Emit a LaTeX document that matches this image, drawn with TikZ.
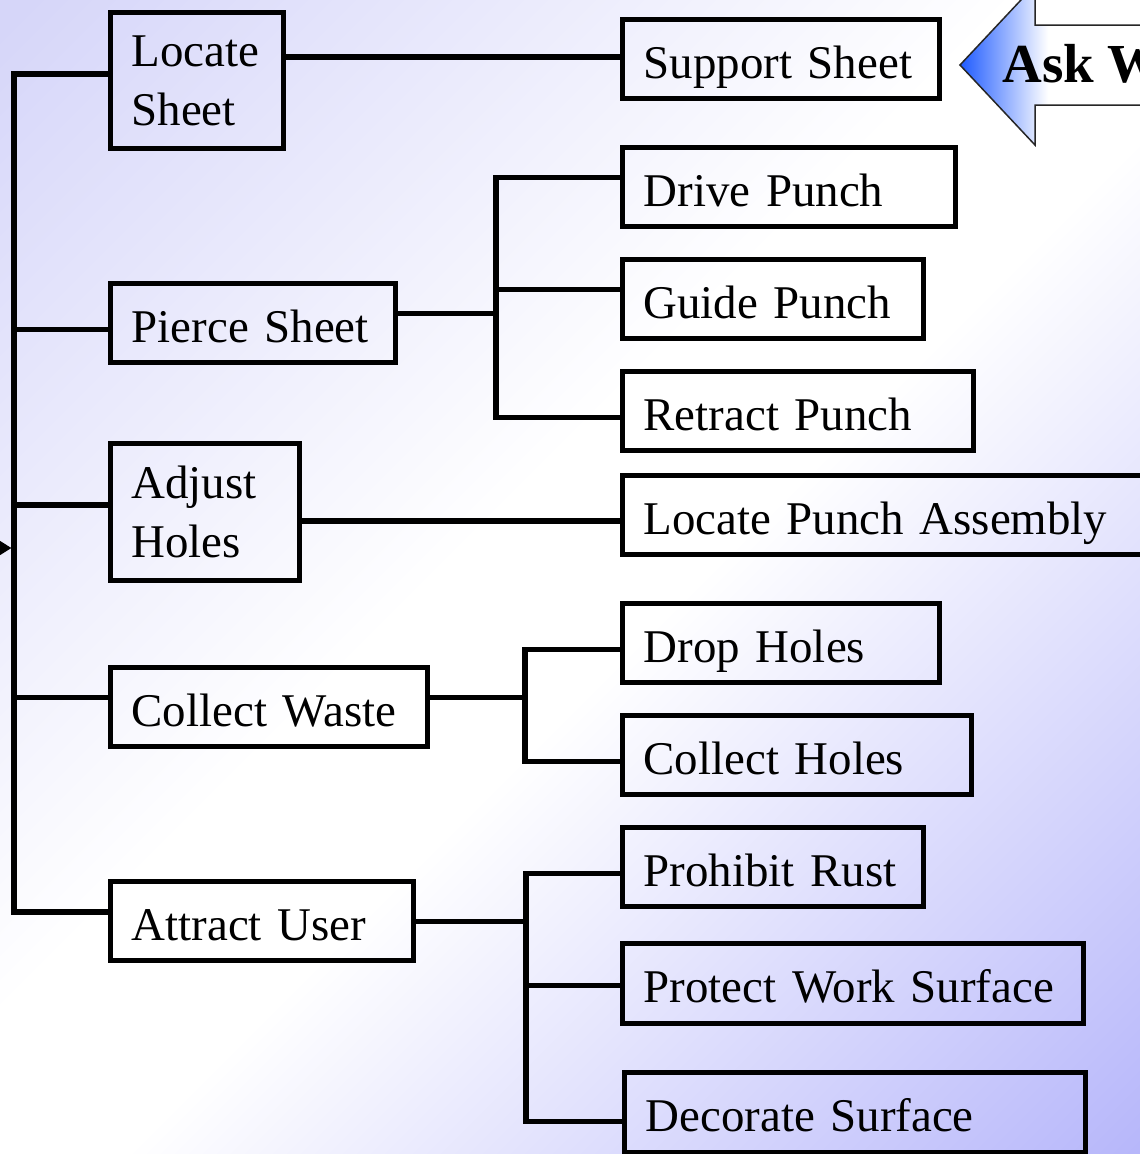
\documentclass[tikz,border=0pt]{standalone}
\usepackage{fontspec}
\setmainfont{Liberation Serif}
\usetikzlibrary{arrows.meta,calc}

\definecolor{bgtl}{RGB}{214,214,249}
\definecolor{bgbr}{RGB}{180,180,250}
\definecolor{askblue}{RGB}{30,90,255}
% diagonal page background: lavender corner, wide white band, blue corner
\pgfdeclareverticalshading{bgshade}{100bp}{color(0bp)=(bgbr); color(14bp)=(bgbr); color(46bp)=(white); color(54bp)=(white); color(84bp)=(bgtl); color(100bp)=(bgtl)}
\pgfdeclarehorizontalshading{askshade}{100bp}{color(0bp)=(askblue); color(25bp)=(askblue); color(47bp)=(white); color(100bp)=(white)}

\tikzset{
  conn/.style={line width=0.105cm},
  fbox/.style={draw, line width=0.105cm, anchor=north west, inner xsep=0.42cm,
    inner ysep=0pt, align=left, font=\fontsize{26.7pt}{33.6pt}\selectfont},
  oneline/.style={text height=0.76cm, text depth=0pt}
}

\begin{document}
\begin{tikzpicture}[x=0.02cm, y=-0.02cm]
  \useasboundingbox (0,0) rectangle (1140,1154);
  \clip (0,0) rectangle (1140,1154);

  % background
  \shade[shading=bgshade, shading angle=45] (-10,-10) rectangle (1150,1164);

  % first level functions
  \node[fbox, text width=2.62cm, minimum height=2.72cm] (ls) at (108,10) {Locate\\Sheet};
  \node[fbox, oneline, text width=4.86cm, minimum height=1.58cm] (ps) at (108,281) {Pierce Sheet};
  \node[fbox, text width=2.94cm, minimum height=2.74cm] (ah) at (108,441) {Adjust\\Holes};
  \node[fbox, oneline, text width=5.50cm, minimum height=1.58cm] (cw) at (108,665) {Collect Waste};
  \node[fbox, oneline, text width=5.22cm, minimum height=1.58cm] (au) at (108,879) {Attract User};

  % second level functions
  \node[fbox, oneline, text width=5.50cm, minimum height=1.58cm] (ss) at (620,17) {Support Sheet};
  \node[fbox, oneline, text width=5.82cm, minimum height=1.58cm] (dp) at (620,145) {Drive Punch};
  \node[fbox, oneline, text width=5.18cm, minimum height=1.58cm] (gp) at (620,257) {Guide Punch};
  \node[fbox, oneline, text width=6.18cm, minimum height=1.58cm] (rp) at (620,369) {Retract Punch};
  \node[fbox, oneline, text width=9.96cm, minimum height=1.58cm] (lpa) at (620,473) {Locate Punch Assembly};
  \node[fbox, oneline, text width=5.50cm, minimum height=1.58cm] (dh) at (620,601) {Drop Holes};
  \node[fbox, oneline, text width=6.14cm, minimum height=1.58cm] (ch) at (620,713) {Collect Holes};
  \node[fbox, oneline, text width=5.18cm, minimum height=1.58cm] (pr) at (620,825) {Prohibit Rust};
  \node[fbox, oneline, text width=8.38cm, minimum height=1.60cm] (pws) at (620,941) {Protect Work Surface};
  \node[fbox, oneline, text width=8.38cm, minimum height=1.60cm] (ds) at (622,1070) {Decorate Surface};

  % trunk positions
  \coordinate (spinetop) at (14,74);
  \coordinate (spinebot) at (14,912);
  \coordinate (tp) at (496,0);
  \coordinate (tw) at (525,0);
  \coordinate (tu) at (526,0);
  \coordinate (feed) at (-40,548);

  % main spine
  \draw[conn] (ls.west |- spinetop) -- (spinetop) -- (spinebot) -- (au.west |- spinebot);
  \draw[conn] ($(ps.west)+(0,6)$) -- ($(ps.west -| spinetop)+(0,6)$);
  \draw[conn] ($(ah.west)+(0,-7)$) -- ($(ah.west -| spinetop)+(0,-7)$);
  \draw[conn] ($(cw.west)+(0,-10)$) -- ($(cw.west -| spinetop)+(0,-10)$);
  \draw[conn, -{Triangle[length=0.24cm, width=0.28cm]}] (feed) -- ($(feed -| spinetop)+(-2.5,0)$);

  % Locate Sheet
  \draw[conn] ($(ls.east)+(0,-23.5)$) -- ($(ls.east -| ss.west)+(0,-23.5)$);

  % Pierce Sheet
  \draw[conn] ($(ps.east)+(0,-10)$) -- ($(ps.east -| tp)+(0,-10)$);
  \draw[conn] ($(dp.west)+(0,-10)$) -| ($(rp.west -| tp)+(0,6)$) -- ($(rp.west)+(0,6)$);
  \draw[conn] ($(gp.west)+(0,-10)$) -- ($(gp.west -| tp)+(0,-10)$);

  % Adjust Holes
  \draw[conn] ($(ah.east)+(0,9)$) -- ($(ah.east -| lpa.west)+(0,9)$);

  % Collect Waste
  \draw[conn] ($(cw.east)+(0,-10)$) -- ($(cw.east -| tw)+(0,-10)$);
  \draw[conn] ($(dh.west)+(0,6)$) -| ($(ch.west -| tw)+(0,6)$) -- ($(ch.west)+(0,6)$);

  % Attract User
  \draw[conn] (au.east) -- (au.east -| tu);
  \draw[conn] ($(pr.west)+(0,6)$) -| ($(ds.west -| tu)+(0,8.5)$) -- ($(ds.west)+(0,8.5)$);
  \draw[conn] ($(pws.west)+(0,1.5)$) -- ($(pws.west -| tu)+(0,1.5)$);

  % callout arrow
  \shadedraw[shading=askshade, draw=black!85, line width=0.03cm]
    (960,65) -- (1035,-15) -- (1035,25) -- (1160,25) -- (1160,105)
    -- (1035,105) -- (1035,145) -- cycle;
  \node[anchor=base west, inner sep=0pt, font=\fontsize{31.3pt}{36pt}\selectfont\bfseries]
    (ask) at (1002,82) {Ask W};
\end{tikzpicture}
\end{document}
